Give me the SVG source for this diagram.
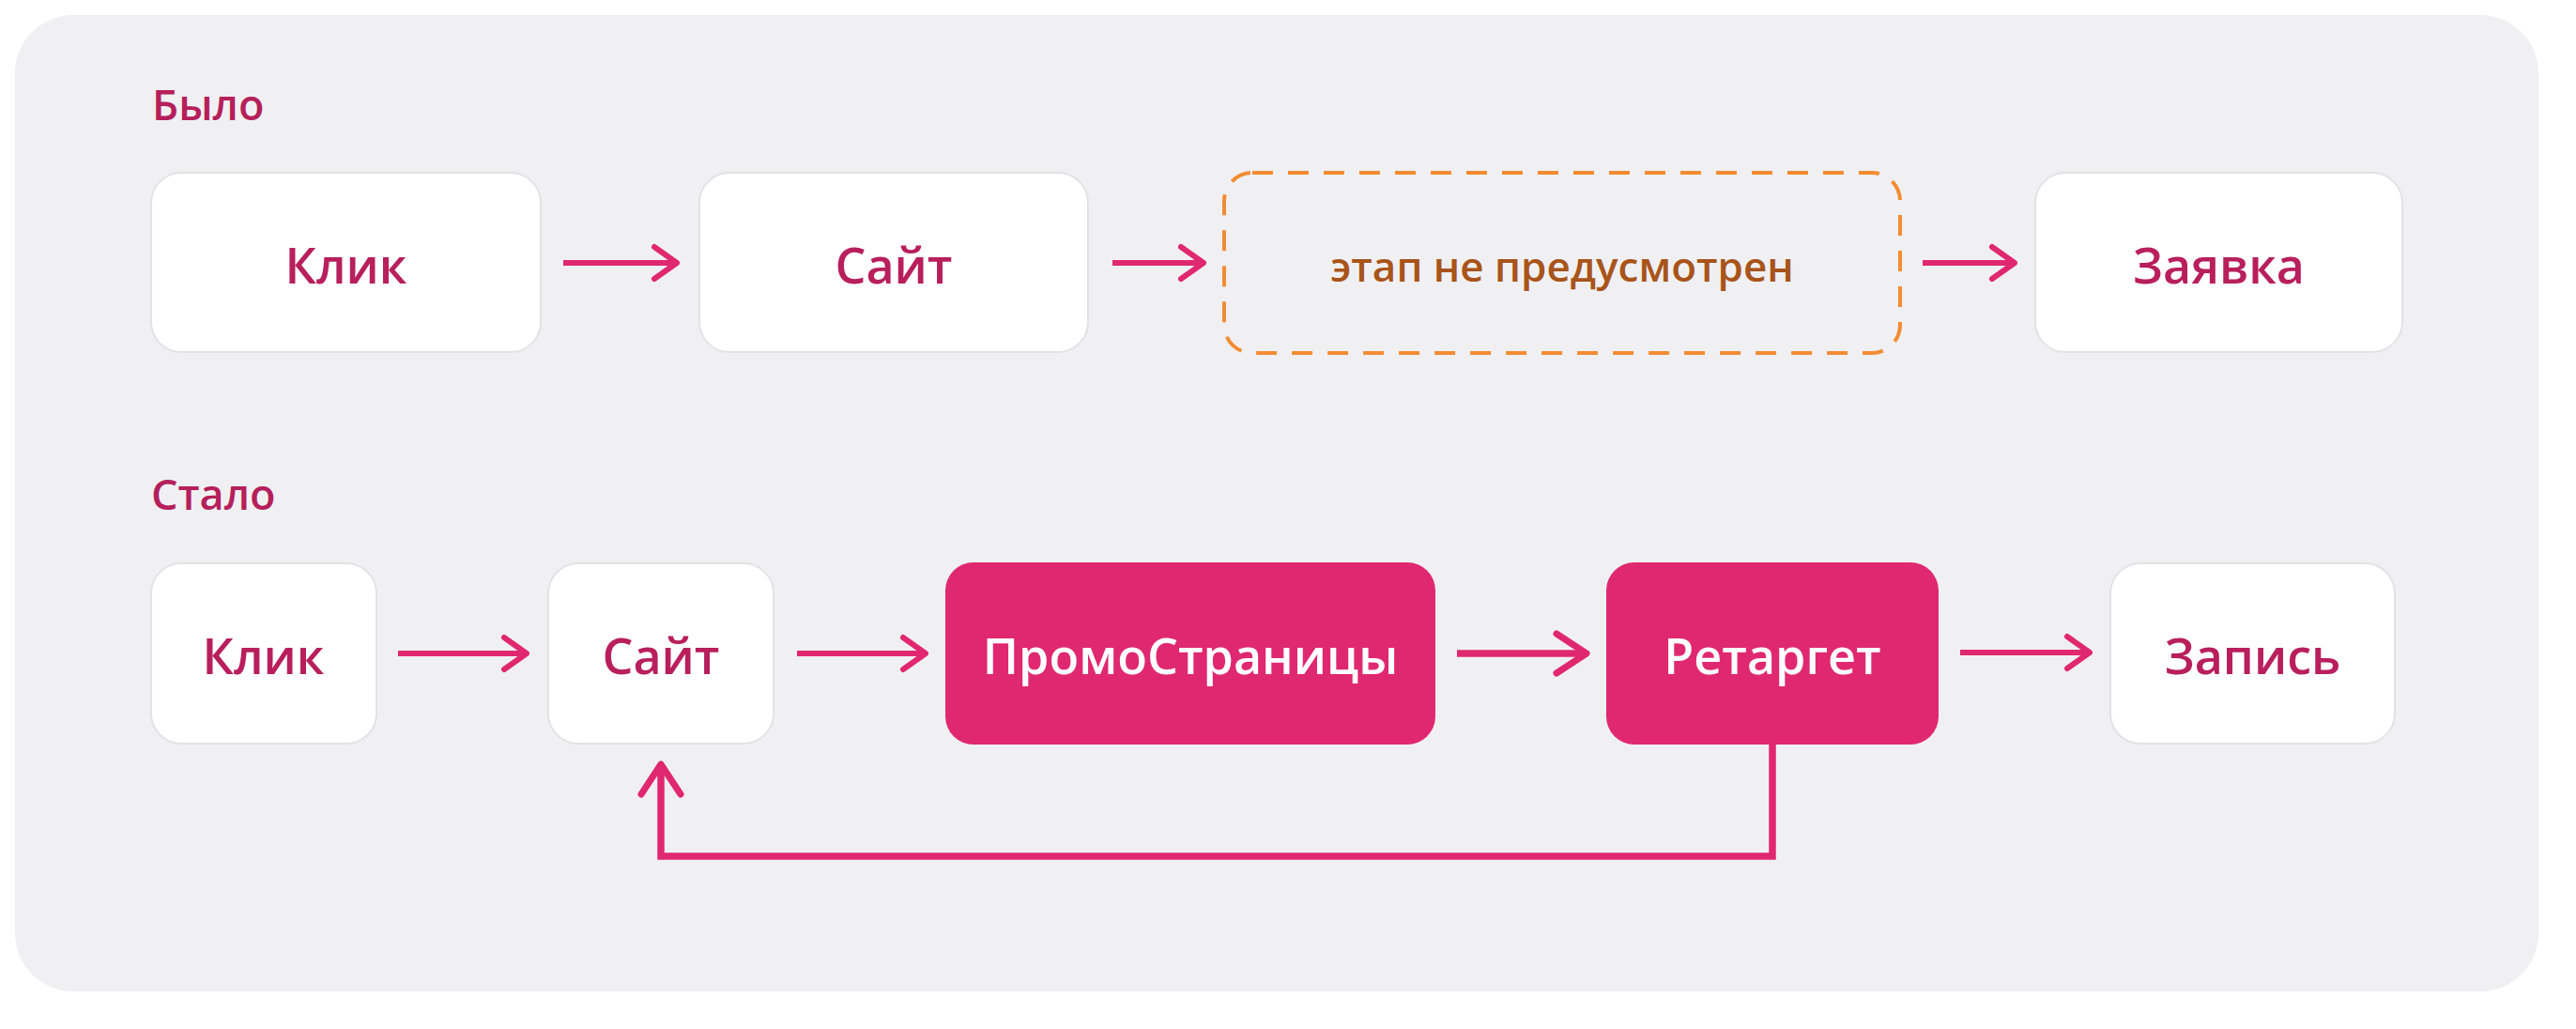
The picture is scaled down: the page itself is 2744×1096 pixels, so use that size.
<svg xmlns="http://www.w3.org/2000/svg" width="2744" height="1096" viewBox="0 0 2744 1096">
  <defs>
    <style>
      .bg { fill: #F0F0F2; }
      .node { fill: #FFFFFF; stroke: #E2E2E6; stroke-width: 2; }
      .hot { fill: #E02870; }
      .ghost { fill: none; stroke: #F28C33; stroke-width: 4; stroke-dasharray: 22 16; }
      .t { font-family: "Open Sans", "Noto Sans", "DejaVu Sans", sans-serif; font-weight: 600; text-anchor: middle; }
      .dark { fill: #B81F5C; font-size: 52px; }
      .light { fill: #FFFFFF; font-size: 52px; }
      .note { fill: #A8541A; font-size: 44px; }
      .lbl { font-family: "Open Sans", "Noto Sans", "DejaVu Sans", sans-serif; font-weight: 600; fill: #B51F5A; font-size: 45px; }
      .edge { fill: none; stroke: #E02870; stroke-width: 6; }
      .edge.bold { stroke-width: 7.5; }
      .head { fill: none; stroke: #E02870; stroke-linecap: round; stroke-linejoin: round; }
    </style>
    <marker id="arr" markerUnits="userSpaceOnUse" orient="auto" refX="0" refY="0" markerWidth="60" markerHeight="60" viewBox="-40 -30 50 60" overflow="visible">
      <path class="head" d="M-24,-17 L0,0 L-24,17" stroke-width="6"/>
    </marker>
    <marker id="arrBig" markerUnits="userSpaceOnUse" orient="auto" refX="0" refY="0" markerWidth="70" markerHeight="70" viewBox="-45 -35 55 70" overflow="visible">
      <path class="head" d="M-32,-21 L0,0 L-32,21" stroke-width="7"/>
    </marker>
  </defs>

  <rect class="bg" x="16" y="16" width="2688" height="1040" rx="62" ry="62"/>

  <text class="lbl" x="162" y="128">Было</text>
  <text class="lbl" x="161" y="543">Стало</text>

  <g id="connectors">
    <path class="edge" d="M600,280 L721,280" marker-end="url(#arr)"/>
    <path class="edge" d="M1185,280 L1282,280" marker-end="url(#arr)"/>
    <path class="edge" d="M2048,280 L2146,280" marker-end="url(#arr)"/>
    <path class="edge" d="M424,696 L561,696" marker-end="url(#arr)"/>
    <path class="edge" d="M849,696 L986,696" marker-end="url(#arr)"/>
    <path class="edge bold" d="M1552,696 L1690,696" marker-end="url(#arrBig)"/>
    <path class="edge" d="M2088,695 L2226,695" marker-end="url(#arr)"/>
    <path class="edge bold" d="M1888,793 L1888,912 L704,912 L704,814" marker-end="url(#arrBig)"/>
  </g>

  <g id="n-klik1">
    <rect class="node" x="161" y="184" width="415" height="191" rx="32"/>
    <text class="t dark" x="368.5" y="302">Клик</text>
  </g>
  <g id="n-sait1">
    <rect class="node" x="745" y="184" width="414" height="191" rx="32"/>
    <text class="t dark" x="952" y="302">Сайт</text>
  </g>
  <g id="n-missing">
    <rect class="ghost" x="1304" y="184" width="720" height="192" rx="30"/>
    <text class="t note" x="1664" y="300">этап не предусмотрен</text>
  </g>
  <g id="n-zayavka">
    <rect class="node" x="2168" y="184" width="391" height="191" rx="32"/>
    <text class="t dark" x="2363.5" y="302">Заявка</text>
  </g>

  <g id="n-klik2">
    <rect class="node" x="161" y="600" width="240" height="192" rx="32"/>
    <text class="t dark" x="280.5" y="718">Клик</text>
  </g>
  <g id="n-sait2">
    <rect class="node" x="584" y="600" width="240" height="192" rx="32"/>
    <text class="t dark" x="704" y="718">Сайт</text>
  </g>
  <g id="n-promo">
    <rect class="hot" x="1007" y="599" width="522" height="194" rx="30"/>
    <text class="t light" x="1268" y="718">ПромоСтраницы</text>
  </g>
  <g id="n-retarget">
    <rect class="hot" x="1711" y="599" width="354" height="194" rx="30"/>
    <text class="t light" x="1888" y="718">Ретаргет</text>
  </g>
  <g id="n-zapis">
    <rect class="node" x="2248" y="600" width="303" height="192" rx="32"/>
    <text class="t dark" x="2399.5" y="718">Запись</text>
  </g>
</svg>
